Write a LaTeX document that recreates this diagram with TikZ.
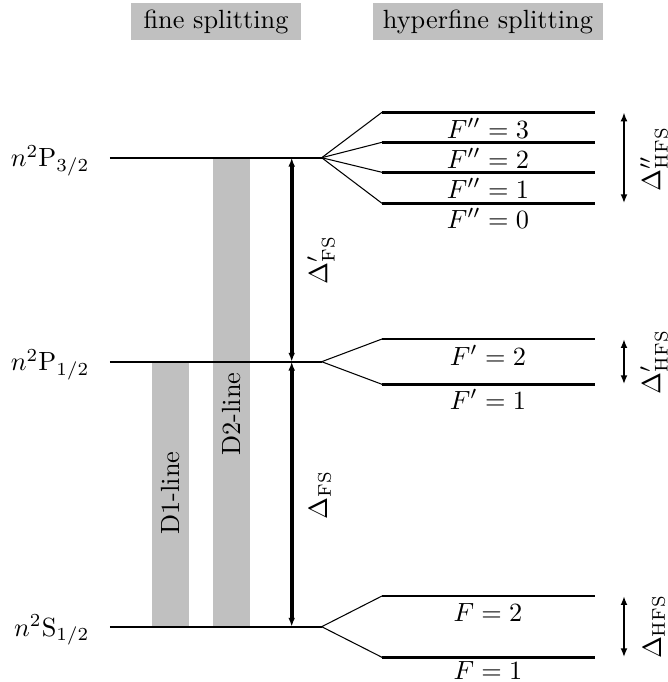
\documentclass[tikz,border=0pt]{standalone}
\usetikzlibrary{arrows.meta}
\definecolor{bargray}{RGB}{192,192,192}
\begin{document}
\begin{tikzpicture}[x=0.38pt,y=-0.38pt,
  hdr/.style={fill=bargray, inner sep=0pt, minimum height=14.06pt},
  level/.style={line width=0.75pt},
  hfs/.style={line width=1.1pt},
  fan/.style={line width=0.4pt},
  bar/.style={fill=bargray},
  bigarrow/.style={line width=1.4pt, {Latex[length=3.4pt,width=2.6pt]}-{Latex[length=3.4pt,width=2.6pt]}},
  smallarrow/.style={line width=1pt, {Latex[length=3.4pt,width=2.6pt]}-{Latex[length=3.4pt,width=2.6pt]}},
  lvlabel/.style={anchor=base east, inner sep=0pt},
  flabel/.style={anchor=base, inner sep=0pt},
  rotlabel/.style={rotate=90, inner sep=0pt}]
\useasboundingbox (0,0) rectangle (668,682);

% headers
\node[hdr, minimum width=64.6pt] (hfine) at (216,21.5) {fine splitting};
\node[hdr, minimum width=87.4pt] (hhyper) at (488,21.5) {hyperfine splitting};

% coordinates of fine levels
\coordinate (P3L) at (110,157.7);
\coordinate (P3R) at (321.7,157.7);
\coordinate (P1L) at (110,361.7);
\coordinate (P1R) at (321.7,361.7);
\coordinate (S1L) at (110,626.7);
\coordinate (S1R) at (321.7,626.7);

% D lines
\fill[bar] (152.3,363.3) rectangle (189,626);
\fill[bar] (213.3,157.7) rectangle (250,626);
\node[rotlabel] (d1) at (170.6,493) {D1-line};
\node[rotlabel] (d2) at (231.6,414) {D2-line};

% fine levels
\draw[level] (P3L) -- (P3R);
\draw[level] (P1L) -- (P1R);
\draw[level] (S1L) -- (S1R);

\node[lvlabel] (lP3) at (90,166.7) {$n^2\mathrm{P}_{3/2}$};
\node[lvlabel] (lP1) at (90,370.7) {$n^2\mathrm{P}_{1/2}$};
\node[lvlabel] (lS1) at (90,636.2) {$n^2\mathrm{S}_{1/2}$};

% hyperfine levels
\foreach \n/\y in {F3/112.3, F2/142.3, F1/172.3, F0/203.3, Gb/339, Ga/384.3, Hb/596, Ha/657.3} {
  \coordinate (\n L) at (382,\y);
  \coordinate (\n R) at (595,\y);
  \draw[hfs] (\n L) -- (\n R);
}
\foreach \n in {F3,F2,F1,F0} \draw[fan] (P3R) -- (\n L);
\foreach \n in {Gb,Ga} \draw[fan] (P1R) -- (\n L);
\foreach \n in {Hb,Ha} \draw[fan] (S1R) -- (\n L);

% F labels
\node[flabel] (tF3) at (488,138) {$F''=3$};
\node[flabel] (tF2) at (488,168) {$F''=2$};
\node[flabel] (tF1) at (488,198) {$F''=1$};
\node[flabel] (tF0) at (488,228.5) {$F''=0$};
\node[flabel] (tG2) at (488,365) {$F'=2$};
\node[flabel] (tG1) at (488,409) {$F'=1$};
\node[flabel] (tH2) at (488,621) {$F=2$};
\node[flabel] (tH1) at (488,679) {$F=1$};

% fine structure arrows
\coordinate (A1) at (291.7,157.7);
\coordinate (A2) at (291.7,361.7);
\coordinate (A3) at (291.7,626.7);
\draw[bigarrow] (A1) -- (A2);
\draw[bigarrow] (A2) -- (A3);
\node[rotlabel] (dfs1) at (321,260) {$\Delta'_{\mathrm{FS}}$};
\node[rotlabel] (dfs) at (320,495) {$\Delta_{\mathrm{FS}}$};

% hyperfine arrows
\coordinate (B1) at (624,112.3);
\coordinate (B2) at (624,203.3);
\coordinate (C1) at (624,339);
\coordinate (C2) at (624,384.3);
\coordinate (E1) at (624,596);
\coordinate (E2) at (624,657.3);
\draw[smallarrow] (B1) -- (B2);
\draw[smallarrow] (C1) -- (C2);
\draw[smallarrow] (E1) -- (E2);
\node[rotlabel] (dh2) at (654,159) {$\Delta''_{\mathrm{HFS}}$};
\node[rotlabel] (dh1) at (654,362) {$\Delta'_{\mathrm{HFS}}$};
\node[rotlabel] (dh0) at (654,627) {$\Delta_{\mathrm{HFS}}$};
\end{tikzpicture}
\end{document}
